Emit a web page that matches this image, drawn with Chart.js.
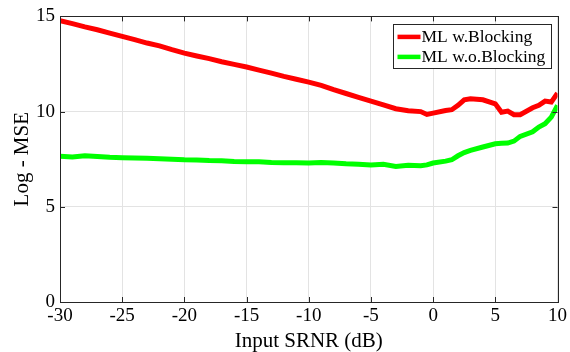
<!DOCTYPE html>
<html>
<head>
<meta charset="utf-8">
<script src="https://cdn.jsdelivr.net/npm/chart.js@4.4.1/dist/chart.umd.min.js"></script>
<style>
    html, body { margin: 0; padding: 0; background: #fff; }
    #wrap { width: 570px; height: 352px; position: relative; }
</style>
</head>
<body>
<div id="wrap"><canvas id="mse-chart"></canvas></div>
<script>
// Input SRNR (dB) sample points
const snrValues = [
    -30, -29, -28, -27, -26, -25, -24, -23, -22, -21,
    -20, -19, -18, -17, -16, -15, -14, -13, -12, -11,
    -10, -9, -8, -7, -6, -5, -4, -3, -2, -1,
    -0.5, 0, 1, 1.5, 2, 2.5, 3, 4, 5, 5.5,
    6, 6.5, 7, 8, 8.5, 9, 9.5, 10
];

// Log - MSE, ML with blocking
const mseWithBlocking = [
    14.78, 14.62, 14.45, 14.3, 14.12, 13.95, 13.78, 13.6, 13.45, 13.25,
    13.07, 12.92, 12.78, 12.62, 12.48, 12.34, 12.18, 12.02, 11.85, 11.7,
    11.55, 11.38, 11.15, 10.95, 10.75, 10.55, 10.35, 10.15, 10.05, 10.0,
    9.85, 9.92, 10.06, 10.1, 10.33, 10.62, 10.67, 10.62, 10.41, 9.97,
    10.03, 9.84, 9.84, 10.2, 10.33, 10.55, 10.5, 10.97
];

// Log - MSE, ML without blocking
const mseWithoutBlocking = [
    7.66, 7.62, 7.68, 7.64, 7.6, 7.58, 7.56, 7.55, 7.52, 7.5,
    7.47, 7.46, 7.43, 7.42, 7.38, 7.37, 7.36, 7.33, 7.32, 7.31,
    7.3, 7.33, 7.3, 7.26, 7.24, 7.19, 7.23, 7.12, 7.18, 7.16,
    7.2, 7.3, 7.4, 7.47, 7.68, 7.85, 7.96, 8.14, 8.31, 8.34,
    8.35, 8.45, 8.7, 8.94, 9.19, 9.36, 9.71, 10.33
];

const xTicks = [-30, -25, -20, -15, -10, -5, 0, 5, 10];
const yTicks = [0, 5, 10, 15];
const seriesLabels = ['ML w.Blocking', 'ML w.o.Blocking'];

const fontFamily = '"Liberation Serif", "Times New Roman", serif';
const axisColor = '#262626';

// box round the plot plus the inward MATLAB-style ticks
const boxPlugin = {
    id: 'boxTicks',
    afterDatasetsDraw(chart) {
        const { ctx, chartArea: a, scales } = chart;
        ctx.save();
        ctx.strokeStyle = axisColor;
        ctx.lineWidth = 1;
        const len = 5;
        xTicks.forEach(v => {
            const px = Math.round(scales.x.getPixelForValue(v)) + 0.5;
            ctx.beginPath();
            ctx.moveTo(px, a.bottom); ctx.lineTo(px, a.bottom - len);
            ctx.moveTo(px, a.top); ctx.lineTo(px, a.top + len);
            ctx.stroke();
        });
        yTicks.forEach(v => {
            const py = Math.round(scales.y.getPixelForValue(v)) + 0.5;
            ctx.beginPath();
            ctx.moveTo(a.left, py); ctx.lineTo(a.left + len, py);
            ctx.moveTo(a.right, py); ctx.lineTo(a.right - len, py);
            ctx.stroke();
        });
        ctx.strokeRect(Math.round(a.left) + 0.5, Math.round(a.top) + 0.5,
            Math.round(a.right - a.left), Math.round(a.bottom - a.top));
        ctx.restore();
    }
};

// legend box in the upper right corner
const legendPlugin = {
    id: 'boxLegend',
    afterDraw(chart) {
        const { ctx, chartArea: a } = chart;
        const w = 158, h = 44;
        const x0 = a.right - 7 - w, y0 = a.top + 8;
        ctx.save();
        ctx.fillStyle = '#fff';
        ctx.fillRect(x0, y0, w, h);
        ctx.strokeStyle = axisColor;
        ctx.lineWidth = 1;
        ctx.strokeRect(Math.round(x0) + 0.5, Math.round(y0) + 0.5, w, h);
        ctx.font = '17.5px ' + fontFamily;
        ctx.textBaseline = 'middle';
        chart.data.datasets.forEach((ds, i) => {
            const cy = y0 + 12.5 + i * 20;
            ctx.strokeStyle = ds.borderColor;
            ctx.lineWidth = 4.5;
            ctx.beginPath();
            ctx.moveTo(x0 + 5, cy); ctx.lineTo(x0 + 28, cy);
            ctx.stroke();
            ctx.fillStyle = '#000';
            ctx.fillText(ds.label, x0 + 29, cy + 1);
        });
        ctx.restore();
    }
};

const ctx = document.getElementById('mse-chart');

new Chart(ctx, {
    type: 'line',
    data: {
        datasets: [
            {
                label: seriesLabels[0],
                data: snrValues.map((x, i) => ({ x: x, y: mseWithBlocking[i] })),
                borderColor: '#ff0000',
                borderWidth: 5,
                pointRadius: 0,
                fill: false
            },
            {
                label: seriesLabels[1],
                data: snrValues.map((x, i) => ({ x: x, y: mseWithoutBlocking[i] })),
                borderColor: '#00ff00',
                borderWidth: 5,
                pointRadius: 0,
                fill: false
            }
        ]
    },
    options: {
        responsive: true,
        maintainAspectRatio: false,
        animation: false,
        layout: { padding: { top: 16, right: 12, left: 0, bottom: 0 } },
        plugins: {
            legend: { display: false },
            tooltip: { enabled: false }
        },
        scales: {
            x: {
                type: 'linear',
                min: -30,
                max: 10,
                afterBuildTicks: axis => { axis.ticks = xTicks.map(v => ({ value: v })); },
                afterFit: axis => { axis.height = 50; },
                grid: { color: '#e3e3e3', drawTicks: false },
                border: { display: false },
                ticks: {
                    color: '#000',
                    padding: 3,
                    maxRotation: 0,
                    font: { family: fontFamily, size: 19 }
                },
                title: {
                    display: true,
                    text: 'Input SRNR (dB)',
                    color: '#000',
                    padding: { top: 0, bottom: 0 },
                    font: { family: fontFamily, size: 21, lineHeight: 1 }
                }
            },
            y: {
                min: 0,
                max: 15,
                afterBuildTicks: axis => { axis.ticks = yTicks.map(v => ({ value: v })); },
                afterFit: axis => { axis.width = 60; },
                grid: { color: '#e3e3e3', drawTicks: false },
                border: { display: false },
                ticks: {
                    color: '#000',
                    padding: 5,
                    font: { family: fontFamily, size: 19 }
                },
                title: {
                    display: true,
                    text: 'Log - MSE',
                    color: '#000',
                    padding: { top: 12, bottom: 0 },
                    font: { family: fontFamily, size: 21, lineHeight: 1 }
                }
            }
        }
    },
    plugins: [boxPlugin, legendPlugin]
});
</script>
</body>
</html>
